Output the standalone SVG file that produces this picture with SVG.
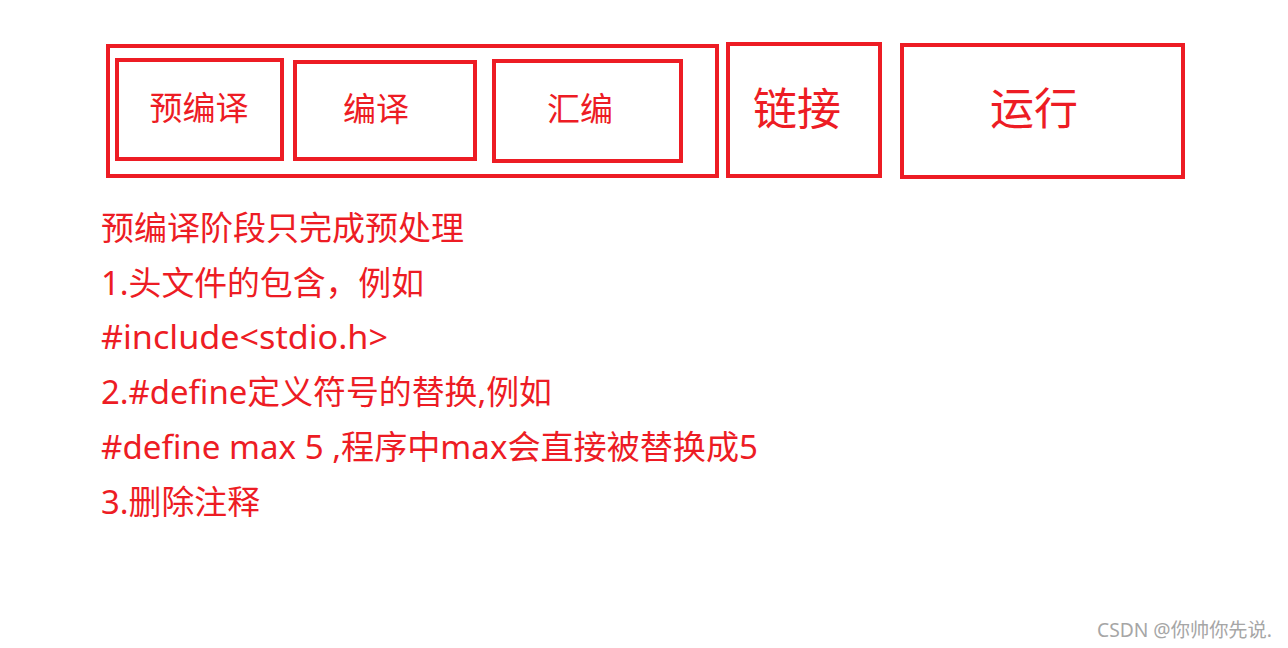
<svg xmlns="http://www.w3.org/2000/svg" width="1288" height="648" viewBox="0 0 1288 648">
<style>
.box{fill:none;stroke:#ED1C24;stroke-width:4}
.lbl{fill:#ED1C24;font-family:"Noto Sans","Noto Sans CJK SC",sans-serif;text-anchor:middle}
.t{fill:#ED1C24;font-family:"Noto Sans","Noto Sans CJK SC",sans-serif;font-size:33px}
.wm{fill:#A6A6A6;font-family:"Noto Sans","Noto Sans CJK SC",sans-serif;font-size:19px}
</style>
<rect width="1288" height="648" fill="#FFFFFF"/>
<g id="preprocess-stage">
<rect class="box" x="108" y="46" width="609" height="130"/>
</g>
<g id="node-precompile">
<rect class="box" x="117" y="60" width="165" height="99"/>
<text class="lbl" x="199" y="120" font-size="33">预编译</text>
</g>
<g id="node-compile">
<rect class="box" x="295" y="62" width="180" height="97"/>
<text class="lbl" x="376" y="121" font-size="33">编译</text>
</g>
<g id="node-assemble">
<rect class="box" x="494" y="61" width="187" height="100"/>
<text class="lbl" x="580" y="121" font-size="33">汇编</text>
</g>
<g id="node-link">
<rect class="box" x="728" y="44" width="152" height="132"/>
<text class="lbl" x="797" y="125" font-size="44">链接</text>
</g>
<g id="node-run">
<rect class="box" x="902" y="45" width="281" height="132"/>
<text class="lbl" x="1034" y="125" font-size="44">运行</text>
</g>
<g id="connectors"></g>
<g id="notes">
<text class="t" x="101" y="240" textLength="363" lengthAdjust="spacingAndGlyphs">预编译阶段只完成预处理</text>
<text class="t" x="101" y="295" textLength="323" lengthAdjust="spacingAndGlyphs">1.头文件的包含，例如</text>
<text class="t" x="101" y="349" textLength="287" lengthAdjust="spacingAndGlyphs">#include&lt;stdio.h&gt;</text>
<text class="t" x="101" y="404" textLength="451" lengthAdjust="spacingAndGlyphs">2.#define定义符号的替换,例如</text>
<text class="t" x="101" y="459" textLength="657" lengthAdjust="spacingAndGlyphs">#define max 5 ,程序中max会直接被替换成5</text>
<text class="t" x="101" y="514" textLength="159" lengthAdjust="spacingAndGlyphs">3.删除注释</text>
</g>
<text class="wm" x="1097" y="637" textLength="175" lengthAdjust="spacingAndGlyphs">CSDN @你帅你先说.</text>
</svg>
